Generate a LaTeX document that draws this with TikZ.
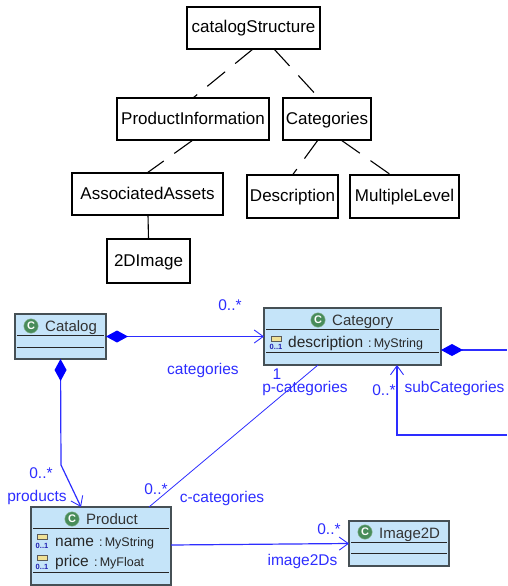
\documentclass[tikz,border=0pt]{standalone}
\usepackage{fontspec}
\setmainfont{Liberation Sans}
\usetikzlibrary{arrows.meta}
\definecolor{umlblue}{RGB}{45,45,255}
\definecolor{umlfill}{RGB}{197,228,249}
\definecolor{umlborder}{RGB}{70,80,85}
\definecolor{umlgreen}{RGB}{72,140,90}
\definecolor{attrfill}{RGB}{240,225,150}
\tikzset{
  treebox/.style={draw=black,line width=1.1pt,fill=white,inner sep=0pt,outer sep=0pt,font=\fontsize{17}{20}\selectfont,text height=12pt,text depth=2pt},
  treeline/.style={draw=black,line width=1.1pt,dash pattern=on 23pt off 13pt},
  classbox/.style={draw=umlborder,line width=1.2pt,fill=umlfill,inner sep=0pt,outer sep=0pt},
  divider/.style={draw=black!85,line width=0.9pt},
  classname/.style={font=\fontsize{15}{18}\selectfont,text=black!80,inner sep=0pt,anchor=west,text height=11pt,text depth=1pt},
  attrname/.style={font=\fontsize{15.5}{18}\selectfont,text=black!85,inner sep=0pt,anchor=west,text height=11pt,text depth=1pt},
  attrtype/.style={font=\fontsize{12.5}{15}\selectfont,text=black!85,inner sep=0pt,anchor=west,text height=11pt,text depth=1pt},
  classicon/.style={circle,fill=umlgreen,draw=umlgreen!60,line width=0.4pt,minimum size=14.5pt,inner sep=0pt,text=white,font=\bfseries\fontsize{11}{11}\selectfont},
  attricon/.style={draw=black!65,fill=attrfill,line width=0.8pt,minimum width=10pt,minimum height=5pt,inner sep=0pt},
  multi/.style={font=\bfseries\fontsize{7.5}{8}\selectfont,text=umlblue!70!black,inner sep=0pt},
  umllabel/.style={font=\fontsize{15.5}{18}\selectfont,text=umlblue,inner sep=0pt,text height=11pt,text depth=1pt},
  assoc/.style={draw=umlblue,line width=1.2pt},
  thinassoc/.style={draw=umlblue,line width=0.8pt},
  openhead/.style={-{Straight Barb[length=9pt,width=13pt,line width=0.9pt]}},
  solidstart/.style={{Diamond[length=22pt,width=12pt,fill=blue,color=blue]}-},
  solidopen/.style={{Diamond[length=22pt,width=12pt,fill=blue,color=blue]}-{Straight Barb[length=9pt,width=13pt,line width=0.9pt]}},
}
\begin{document}
\begin{tikzpicture}[x=1pt,y=-1pt]
\useasboundingbox (0,0) rectangle (507,586);
% tree
\node[treebox,minimum width=133pt,minimum height=42pt] (cs) at (253.5,28) {catalogStructure};
\node[treebox,minimum width=152pt,minimum height=42pt] (pi) at (193,119) {ProductInformation};
\node[treebox,minimum width=88pt,minimum height=42pt] (cat) at (327,119) {Categories};
\node[treebox,minimum width=151pt,minimum height=42pt] (aa) at (147.5,194) {AssociatedAssets};
\node[treebox,minimum width=91pt,minimum height=43pt] (desc) at (292.5,196.5) {Description};
\node[treebox,minimum width=109pt,minimum height=43pt] (ml) at (404.5,196.5) {MultipleLevel};
\node[treebox,minimum width=83pt,minimum height=44pt] (img) at (148.5,261) {2DImage};
\draw[treeline] ([xshift=-0.5pt]cs.south) -- (pi.north);
\draw[treeline] ([xshift=20.5pt]cs.south) -- ([xshift=-8pt]cat.north);
\draw[treeline] (pi.south) -- ([xshift=-0.5pt]aa.north);
\draw[treeline] ([xshift=-9pt]cat.south) -- (desc.north);
\draw[treeline] ([xshift=14pt]cat.south) -- ([xshift=-13.5pt]ml.north);
\draw[draw=black,line width=1.1pt] ([xshift=0.5pt]aa.south) -- (img.north);
% classes
\node[classbox,minimum width=91pt,minimum height=45pt] (catalog) at (60.5,336.5) {};
\node[classbox,minimum width=177pt,minimum height=57pt] (category) at (352.5,336.5) {};
\node[classbox,minimum width=140pt,minimum height=78pt] (product) at (101,546) {};
\node[classbox,minimum width=100pt,minimum height=45pt] (image) at (399,543.5) {};
% dividers
\draw[divider] (17,335) -- (104,335) (17,347) -- (104,347);
\draw[divider] (266,329) -- (439,329) (266,352) -- (439,352);
\draw[divider] (33,528) -- (169,528) (33,572) -- (169,572);
\draw[divider] (351,542) -- (447,542) (351,553) -- (447,553);
% class heads
\node[classicon] (catalogicon) at (31,326) {C};
\node[classname] (catalogname) at (45,326) {Catalog};
\node[classicon] (categoryicon) at (318,320) {C};
\node[classname] (categoryname) at (332,320) {Category};
\node[classicon] (producticon) at (72,519) {C};
\node[classname] (productname) at (86,519) {Product};
\node[classicon] (imageicon) at (365,532) {C};
\node[classname] (imagename) at (379,533) {Image2D};
% attributes
\node[attricon] (ai1) at (276,338.5) {};
\node[multi] (am1) at (276,347) {0..1};
\node[attrname] (an1) at (288,342) {description};
\node[attrtype] (at1) at (368,342) {:\,MyString};
\node[attricon] (ai2) at (42,537) {};
\node[multi] (am2) at (42,546) {0..1};
\node[attrname] (an2) at (55,541) {name};
\node[attrtype] (at2) at (99,541) {:\,MyString};
\node[attricon] (ai3) at (42,557.5) {};
\node[multi] (am3) at (42,566.5) {0..1};
\node[attrname] (an3) at (55,561) {price};
\node[attrtype] (at3) at (94,561) {:\,MyFloat};
% connector ends
\coordinate (catalogbend) at (61,465);
\coordinate (rightend) at (507,350);
\coordinate (subright) at (507,435);
\coordinate (subcorner) at (397,435);
% connectors
\draw[assoc,solidopen] (catalog.east) -- (category.west);
\draw[assoc,solidopen] (catalog.south) -- (catalogbend) -- ([xshift=-20pt]product.north);
\draw[assoc,solidstart] ([yshift=-13.5pt]category.east) -- (rightend);
\draw[assoc,openhead] (subright) -- (subcorner) -- ([xshift=44.5pt]category.south);
\draw[thinassoc] ([xshift=-34.5pt]category.south) -- ([xshift=48pt]product.north);
\draw[assoc,openhead] ([yshift=1pt]product.east) -- (image.west);
% labels
\node[umllabel] (l1) at (230,305) {0..*};
\node[umllabel] (l2) at (203,369) {categories};
\node[umllabel] (l3) at (277,374) {1};
\node[umllabel] (l4) at (305,387) {p-categories};
\node[umllabel] (l5) at (384,390) {0..*};
\node[umllabel] (l6) at (454.5,387) {subCategories};
\node[umllabel] (l7) at (41,473) {0..*};
\node[umllabel] (l8) at (37,496) {products};
\node[umllabel] (l9) at (156,489) {0..*};
\node[umllabel] (l10) at (222,497) {c-categories};
\node[umllabel] (l11) at (329,529) {0..*};
\node[umllabel] (l12) at (302.5,560) {image2Ds};
\end{tikzpicture}
\end{document}
